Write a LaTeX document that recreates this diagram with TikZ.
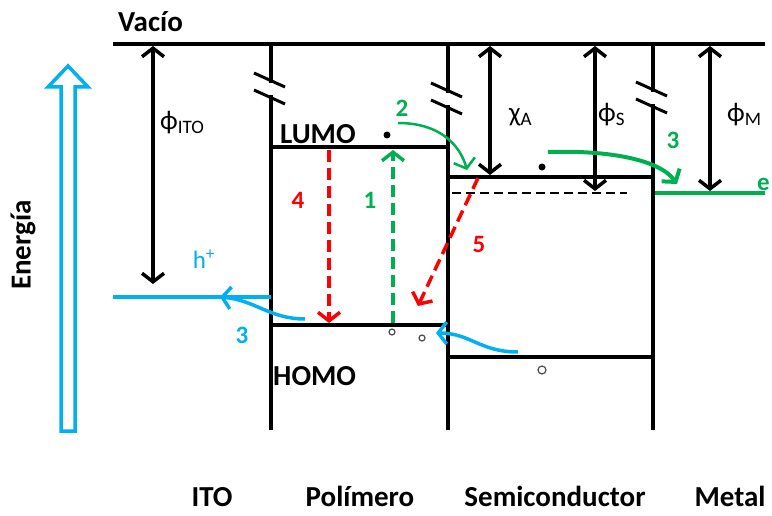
\documentclass[tikz,border=0pt]{standalone}
\usepackage{fontspec}
\setmainfont{Carlito}
\usetikzlibrary{arrows.meta}
\definecolor{verde}{RGB}{0,176,80}
\definecolor{rojo}{RGB}{255,0,0}
\definecolor{celeste}{RGB}{0,176,240}
\tikzset{
  nivel/.style={line width=4.5pt},
  punta/.tip={Straight Barb[length=8.5pt,width=22pt]},
  flecha/.style={line width=3.5pt,-punta},
  doble/.style={line width=3.5pt,punta-punta},
  rayas/.style={dash pattern=on 12pt off 6pt},
  etiqueta/.style={font=\bfseries\fontsize{29}{29}\selectfont,inner sep=0pt},
  griega/.style={font=\fontsize{27}{27}\selectfont,inner sep=0pt,anchor=base west},
  numero/.style={font=\bfseries\fontsize{25}{25}\selectfont,inner sep=0pt},
}
\newcommand{\subi}[1]{\raisebox{-4pt}{\fontsize{19}{19}\selectfont #1}}
\begin{document}
\begin{tikzpicture}[x=1pt,y=-1pt]
\useasboundingbox (0,0) rectangle (772,516);
% niveles de vacio y bandas
\draw[nivel] (113,44) -- (765,44);
\foreach \x/\y in {271/73,448/83,653/82}{
  \draw[nivel] (\x,44) -- (\x,\y+10);
  \draw[nivel] (\x,\y+22) -- (\x,430);
  \draw[line width=3pt] (\x-17,\y) -- (\x+14,\y+14);
  \draw[line width=3pt] (\x-17,\y+17) -- (\x+14,\y+31);
}
\draw[nivel] (271,147) -- (448,147);
\draw[nivel] (271,325) -- (448,325);
\draw[nivel] (448,177) -- (653,177);
\draw[nivel] (448,357) -- (653,357);
\draw[line width=2.5pt,dash pattern=on 9pt off 5pt] (452,193) -- (627,193);
\draw[line width=4pt,verde] (655,193) -- (765,193);
\draw[line width=4pt,celeste] (113,297) -- (271,297);
% flecha de energia
\draw[line width=3.5pt,celeste,fill=white] (61,431) -- (61,87) -- (48,87) -- (68,66)
  -- (88,87) -- (75,87) -- (75,431) -- cycle;
\node[etiqueta,rotate=90] (energia) at (23,245) {Energía};
% textos
\node[etiqueta,anchor=base west] (vacio) at (118,32) {Vacío};
\node[etiqueta,anchor=base west] (lumo) at (280,144) {LUMO};
\node[etiqueta,anchor=base west] (homo) at (273,385) {HOMO};
\node[etiqueta,anchor=base] (ito) at (212,506) {ITO};
\node[etiqueta,anchor=base] (polimero) at (360,506) {Polímero};
\node[etiqueta,anchor=base] (semi) at (555,506) {Semiconductor};
\node[etiqueta,anchor=base] (metal) at (730,506) {Metal};
\node[griega] (fito) at (160,130) {ϕ\subi{ITO}};
\node[griega] (chia) at (509,122) {χ\subi{A}};
\node[griega] (fis) at (598,122) {ϕ\subi{S}};
\node[griega] (fim) at (727,122) {ϕ\subi{M}};
% funciones de trabajo
\coordinate (v1) at (153,46);  \coordinate (f1) at (153,284);
\coordinate (v2) at (490,46);  \coordinate (f2) at (490,175);
\coordinate (v3) at (595,46);  \coordinate (f3) at (595,191);
\coordinate (v4) at (710,46);  \coordinate (f4) at (710,191);
\foreach \i in {1,...,4}
  \draw[doble] (v\i) -- (f\i);
% portadores
\fill (387,135) circle (3.5);
\fill (542,167) circle (3.5);
\draw[line width=1.2pt,black!70] (392,332) circle (3);
\draw[line width=1.2pt,black!70] (422,338) circle (3);
\draw[line width=1.2pt,black!70] (542,370) circle (4);
% procesos
\coordinate (h1) at (393,323); \coordinate (l1) at (393,150);
\coordinate (l4) at (329,150); \coordinate (h4) at (329,323);
\coordinate (c5) at (478,178); \coordinate (h5) at (418,306);
\draw[flecha,verde,rayas] (h1) -- (l1);
\draw[flecha,rojo,rayas] (l4) -- (h4);
\draw[flecha,rojo,rayas] (c5) -- (h5);
\draw[verde,line width=2.5pt,-punta] (398,123) .. controls (440,123) and (460,145) .. (467,170);
\draw[verde,flecha,line width=4pt] (548,152) .. controls (610,150) and (660,160) .. (677,184);
\draw[celeste,flecha,line width=3.5pt] (305,319) .. controls (270,319) and (255,300) .. (220,297);
\draw[celeste,flecha,line width=3.5pt] (518,352) .. controls (480,352) and (470,333) .. (436,333);
\node[numero,verde] (n1) at (370,200) {1};
\node[numero,rojo] (n4) at (298,200) {4};
\node[numero,verde] (n2) at (402,108) {2};
\node[numero,verde] (n3) at (673,140) {3};
\node[numero,rojo] (n5) at (479,244) {5};
\node[numero,celeste] (n3b) at (242,335) {3};
\node[font=\fontsize{25}{25}\selectfont,celeste,inner sep=0pt] (hueco) at (204,259) {h\textsuperscript{+}};
\node[numero,verde,anchor=base west] (e) at (757,191) {e};
\end{tikzpicture}
\end{document}
